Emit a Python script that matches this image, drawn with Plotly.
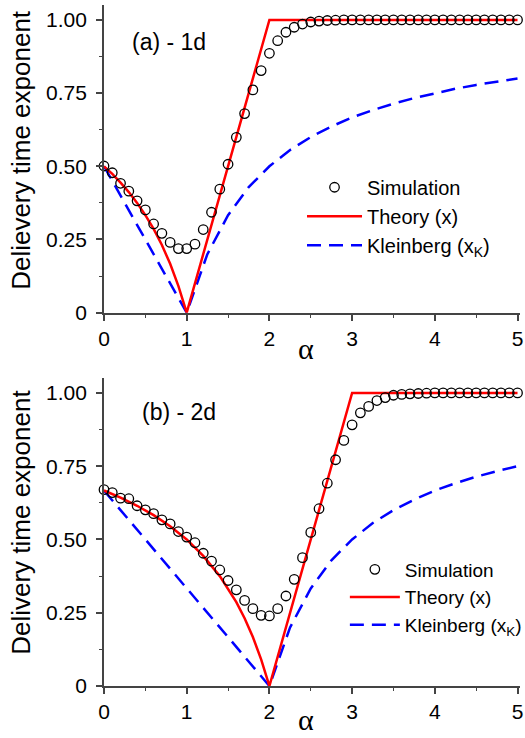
import plotly.graph_objects as go

# ---------------- data ----------------
alpha = [0.0, 0.1, 0.2, 0.3, 0.4, 0.5, 0.6, 0.7, 0.8, 0.9,
         1.0, 1.1, 1.2, 1.3, 1.4, 1.5, 1.6, 1.7, 1.8, 1.9,
         2.0, 2.1, 2.2, 2.3, 2.4, 2.5, 2.6, 2.7, 2.8, 2.9,
         3.0, 3.1, 3.2, 3.3, 3.4, 3.5, 3.6, 3.7, 3.8, 3.9,
         4.0, 4.1, 4.2, 4.3, 4.4, 4.5, 4.6, 4.7, 4.8, 4.9, 5.0]

sim_1d = [0.501, 0.478, 0.442, 0.415, 0.382, 0.351, 0.303, 0.271, 0.240, 0.219,
          0.219, 0.234, 0.284, 0.343, 0.422, 0.507, 0.599, 0.680, 0.761, 0.827,
          0.886, 0.929, 0.958, 0.975, 0.986, 0.993, 0.996, 0.998, 0.999, 1.000,
          1.000, 1.000, 1.000, 1.000, 1.000, 1.000, 1.000, 1.000, 1.000, 1.000,
          1.000, 1.000, 1.000, 1.000, 1.000, 1.000, 1.000, 1.000, 1.000, 1.000, 1.000]

sim_2d = [0.670, 0.660, 0.641, 0.639, 0.615, 0.601, 0.588, 0.567, 0.553, 0.527,
          0.508, 0.489, 0.453, 0.426, 0.396, 0.360, 0.328, 0.292, 0.264, 0.241,
          0.239, 0.264, 0.307, 0.364, 0.438, 0.524, 0.605, 0.692, 0.772, 0.838,
          0.891, 0.932, 0.954, 0.974, 0.984, 0.992, 0.995, 0.997, 0.998, 0.999,
          1.000, 1.000, 1.000, 1.000, 1.000, 1.000, 1.000, 1.000, 1.000, 1.000, 1.000]

theory_1d_alpha = [0.0, 0.1, 0.2, 0.3, 0.4, 0.5, 0.6, 0.7, 0.8, 0.9, 1.0, 2.0, 5.0]
theory_1d = [0.500, 0.474, 0.444, 0.412, 0.375, 0.333, 0.286, 0.231, 0.167, 0.091, 0.0, 1.0, 1.0]

theory_2d_alpha = [0.0, 0.2, 0.4, 0.6, 0.8, 1.0, 1.2, 1.4, 1.6, 1.7, 1.8, 1.9, 2.0, 3.0, 5.0]
theory_2d = [0.667, 0.643, 0.615, 0.583, 0.545, 0.500, 0.444, 0.375, 0.286, 0.231, 0.167, 0.091, 0.0, 1.0, 1.0]

klein_1d_alpha = [0.0, 1.0, 1.25, 1.5, 1.75, 2.0, 2.25, 2.5, 2.75, 3.0, 3.25, 3.5, 3.75, 4.0, 4.25, 4.5, 4.75, 5.0]
klein_1d = [0.500, 0.0, 0.200, 0.333, 0.429, 0.500, 0.556, 0.600, 0.636, 0.667, 0.692, 0.714, 0.733, 0.750, 0.765, 0.778, 0.789, 0.800]

klein_2d_alpha = [0.0, 2.0, 2.25, 2.5, 2.75, 3.0, 3.25, 3.5, 3.75, 4.0, 4.25, 4.5, 4.75, 5.0]
klein_2d = [0.667, 0.0, 0.200, 0.333, 0.429, 0.500, 0.556, 0.600, 0.636, 0.667, 0.692, 0.714, 0.733, 0.750]

x_ticks = [0, 1, 2, 3, 4, 5]
y_ticks = [0, 0.25, 0.5, 0.75, 1.0]
y_ticktext = ["0", "0.25", "0.50", "0.75", "1.00"]

names = ["Simulation", "Theory (x)", "Kleinberg (x<sub>K</sub>)"]

# ---------------- figure ----------------
FONT = "Liberation Sans, Arial, sans-serif"
SERIF = "Liberation Serif, Times New Roman, serif"
RED = "#ff0000"
BLUE = "#0000ff"

fig = go.Figure()

panels = [
    ("x", "y", "legend", sim_1d, theory_1d_alpha, theory_1d, klein_1d_alpha, klein_1d),
    ("x2", "y2", "legend2", sim_2d, theory_2d_alpha, theory_2d, klein_2d_alpha, klein_2d),
]
for xa, ya, lg, sim, ta, tv, ka, kv in panels:
    fig.add_trace(go.Scatter(x=ka, y=kv, mode="lines", name=names[2], legend=lg,
                             legendrank=3, cliponaxis=False,
                             line=dict(color=BLUE, width=2.5, dash="14px,8px"),
                             xaxis=xa, yaxis=ya))
    fig.add_trace(go.Scatter(x=ta, y=tv, mode="lines", name=names[1], legend=lg,
                             legendrank=2, cliponaxis=False,
                             line=dict(color=RED, width=2.5),
                             xaxis=xa, yaxis=ya))
    fig.add_trace(go.Scatter(x=alpha, y=sim, mode="markers", name=names[0], legend=lg,
                             legendrank=1, cliponaxis=False,
                             marker=dict(symbol="circle-open", size=9.5, color="black",
                                         line=dict(width=1.3, color="black")),
                             xaxis=xa, yaxis=ya))

axis_common = dict(showline=True, linecolor="#444444", linewidth=1.8, showgrid=False,
                   zeroline=False, ticks="outside", ticklen=6, tickwidth=1.5,
                   tickcolor="#444444", automargin=False,
                   tickfont=dict(family=FONT, size=21, color="black"))

xa = dict(axis_common, range=[0, 5.03], tickvals=x_ticks,
          minor=dict(ticks="outside", ticklen=3.5, tickwidth=1.2, tickcolor="#444444", dtick=0.5, tick0=0))
ya = dict(axis_common, range=[0, 1.051], tickvals=y_ticks, ticktext=y_ticktext,
          ticklabelstandoff=5,
          minor=dict(ticks="outside", ticklen=3.5, tickwidth=1.2, tickcolor="#444444", dtick=0.125, tick0=0))

top_dom = [0.5482, 1.0]
bot_dom = [0.0, 0.4523]

legend_common = dict(bgcolor="rgba(0,0,0,0)",
                     tracegroupgap=0, xanchor="left", yanchor="top", traceorder="normal")

fig.update_layout(
    width=525, height=738, autosize=False,
    margin=dict(l=104, r=5, t=5, b=52, autoexpand=False),
    paper_bgcolor="white", plot_bgcolor="white",
    xaxis=dict(xa, domain=[0, 1], anchor="y"),
    yaxis=dict(ya, domain=top_dom, anchor="x"),
    xaxis2=dict(xa, domain=[0, 1], anchor="y2"),
    yaxis2=dict(ya, domain=bot_dom, anchor="x2"),
    legend=dict(legend_common, x=0.476, y=0.761, itemwidth=55,
                font=dict(family=FONT, size=20, color="black")),
    legend2=dict(legend_common, x=0.579, y=0.199, itemwidth=50,
                 font=dict(family=FONT, size=19, color="black")),
    showlegend=True,
)

annots = [
    dict(text="(a) - 1d", x=0.0625, y=0.946, xanchor="left", yanchor="middle",
         font=dict(family=FONT, size=23, color="black")),
    dict(text="(b) - 2d", x=0.0865, y=0.403, xanchor="left", yanchor="middle",
         font=dict(family=FONT, size=23, color="black")),
    dict(text="Delievery time exponent", x=-0.2, y=0.787, textangle=-90,
         xanchor="center", yanchor="middle",
         font=dict(family=FONT, size=26, color="black")),
    dict(text="Delivery time exponent", x=-0.2, y=0.2408, textangle=-90,
         xanchor="center", yanchor="middle",
         font=dict(family=FONT, size=26, color="black")),
    dict(text="α", x=0.486, y=0.496, xanchor="center", yanchor="middle",
         font=dict(family=SERIF, size=30, color="black")),
    dict(text="α", x=0.486, y=-0.0764, xanchor="center", yanchor="bottom",
         font=dict(family=SERIF, size=30, color="black")),
]
for a in annots:
    fig.add_annotation(xref="paper", yref="paper", showarrow=False, **a)

fig.write_html(
    "out.html",
    config={"responsive": False, "displayModeBar": False},
    post_script="document.body.style.margin='0';document.body.style.overflow='hidden';",
)
